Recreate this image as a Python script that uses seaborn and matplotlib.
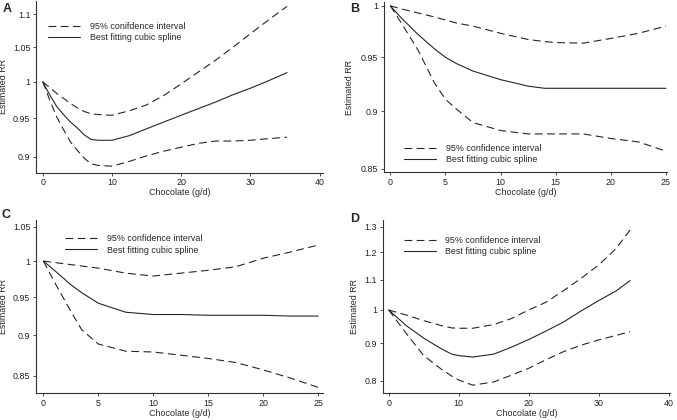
import numpy as np
import pandas as pd
import seaborn as sns
from matplotlib import pyplot as plt
from matplotlib.ticker import NullLocator

# panel A
a_x = [0, 1, 2, 3, 4, 5, 6, 7, 8, 10, 12.5, 15, 17.5, 20, 22.5, 25, 27.5, 30, 32.5, 35.3]
a_upper = [1.0, 0.992, 0.984, 0.977, 0.970, 0.964, 0.959, 0.956, 0.955, 0.954, 0.960, 0.968,
           0.981, 0.997, 1.014, 1.031, 1.050, 1.070, 1.090, 1.112]
a_mid = [1.0, 0.982, 0.966, 0.955, 0.945, 0.937, 0.928, 0.922, 0.921, 0.921, 0.927, 0.936,
         0.945, 0.954, 0.963, 0.972, 0.982, 0.991, 1.001, 1.013]
a_lower = [1.0, 0.975, 0.952, 0.935, 0.919, 0.908, 0.898, 0.891, 0.889, 0.888, 0.894, 0.901,
           0.907, 0.912, 0.917, 0.920, 0.920, 0.921, 0.923, 0.925]

# panel B
b_x = [0, 1, 2.5, 4, 5, 6, 7.5, 10, 12.5, 14, 15, 17.5, 20, 22.5, 25]
b_upper = [1.0, 0.997, 0.993, 0.989, 0.986, 0.983, 0.980, 0.973, 0.967, 0.965, 0.964, 0.9635,
           0.968, 0.973, 0.980]
b_mid = [1.0, 0.988, 0.972, 0.958, 0.950, 0.944, 0.937, 0.929, 0.923, 0.921, 0.921, 0.921,
         0.921, 0.921, 0.921]
b_lower = [1.0, 0.983, 0.957, 0.926, 0.911, 0.902, 0.890, 0.883, 0.880, 0.880, 0.880, 0.880,
           0.876, 0.873, 0.865]

# panel C
c_x = [0, 1, 2.5, 3.5, 5, 7.5, 10, 12.5, 15, 17.5, 20, 22.5, 25]
c_upper = [1.0, 0.998, 0.995, 0.993, 0.990, 0.983, 0.979, 0.983, 0.987, 0.992, 1.004, 1.013, 1.023]
c_mid = [1.0, 0.987, 0.967, 0.956, 0.942, 0.930, 0.927, 0.927, 0.926, 0.926, 0.926, 0.925, 0.925]
c_lower = [1.0, 0.971, 0.931, 0.907, 0.889, 0.880, 0.879, 0.875, 0.871, 0.866, 0.857, 0.847, 0.836]

# panel D
d_x = [0, 2.5, 5, 7.5, 9, 10, 12, 15, 17.5, 20, 22.5, 25, 27.5, 30, 32.5, 34.5]
d_upper = [1.0, 0.984, 0.967, 0.952, 0.945, 0.944, 0.944, 0.955, 0.973, 1.0, 1.025, 1.063,
           1.105, 1.152, 1.214, 1.287]
d_mid = [1.0, 0.952, 0.915, 0.885, 0.870, 0.866, 0.862, 0.870, 0.889, 0.911, 0.936, 0.963,
         0.997, 1.03, 1.062, 1.097]
d_lower = [1.0, 0.929, 0.866, 0.830, 0.812, 0.802, 0.789, 0.797, 0.814, 0.832, 0.855, 0.877,
           0.895, 0.910, 0.923, 0.934]

ci_labels = ['95% conifdence interval', '95% confidence interval',
             '95% confidence interval', '95% confidence interval']
spline_label = 'Best fitting cubic spline'

sns.set_style('ticks')
plt.rcParams['font.family'] = ['Liberation Sans', 'DejaVu Sans']
plt.rcParams['font.size'] = 6.4

panels = [
    dict(letter='A', x=a_x, up=a_upper, mid=a_mid, lo=a_lower,
         rect=[0.0532, 0.589, 0.424, 0.408], xlim=(-0.97, 40.5), ylim=(0.880, 1.12),
         xticks=[0, 10, 20, 30, 40], yticks=[0.9, 0.95, 1.0, 1.05, 1.1],
         ylabels=['0.9', '0.95', '1', '1.05', '1.1'], leg=(0.042, 0.82),
         ylab_x=-0.096, txt=(3, 9)),
    dict(letter='B', x=b_x, up=b_upper, mid=b_mid, lo=b_lower,
         rect=[0.5668, 0.590, 0.4185, 0.4055], xlim=(-0.6, 25.1), ylim=(0.847, 1.004),
         xticks=[0, 5, 10, 15, 20, 25], yticks=[0.85, 0.9, 0.95, 1.0],
         ylabels=['0.85', '0.9', '0.95', '1'], leg=(0.072, 0.107),
         ylab_x=-0.105, txt=(350, 8.5)),
    dict(letter='C', x=c_x, up=c_upper, mid=c_mid, lo=c_lower,
         rect=[0.0532, 0.0636, 0.424, 0.4126], xlim=(-0.67, 25.45), ylim=(0.829, 1.06),
         xticks=[0, 5, 10, 15, 20, 25], yticks=[0.85, 0.9, 0.95, 1.0, 1.05],
         ylabels=['0.85', '0.9', '0.95', '1', '1.05'], leg=(0.101, 0.859),
         ylab_x=-0.096, txt=(2, 215)),
    dict(letter='D', x=d_x, up=d_upper, mid=d_mid, lo=d_lower,
         rect=[0.5653, 0.0636, 0.4244, 0.4126], xlim=(-0.86, 40.2), ylim=(0.769, 1.328),
         xticks=[0, 10, 20, 30, 40], yticks=[0.8, 0.9, 1.0, 1.1, 1.2, 1.3],
         ylabels=['0.8', '0.9', '1', '1.1', '1.2', '1.3'], leg=(0.073, 0.849),
         ylab_x=-0.0835, txt=(350, 219.5)),
]

dash = (0, (7, 4))
line_col = '#262626'

fig = plt.figure(figsize=(6.77, 4.2), dpi=100)
for i, p in enumerate(panels):
    ax = fig.add_axes(p['rect'])
    sns.lineplot(x=p['x'], y=p['up'], ax=ax, color=line_col, lw=0.8, linestyle=dash)
    sns.lineplot(x=p['x'], y=p['mid'], ax=ax, color=line_col, lw=0.8)
    sns.lineplot(x=p['x'], y=p['lo'], ax=ax, color=line_col, lw=0.8, linestyle=dash)

    # RR axes are on a log scale
    ax.set_yscale('log')
    ax.set_xlim(*p['xlim'])
    ax.set_ylim(*p['ylim'])
    ax.set_xticks(p['xticks'])
    ax.set_xticklabels([str(t) for t in p['xticks']])
    ax.set_yticks(p['yticks'])
    ax.set_yticklabels(p['ylabels'])
    ax.yaxis.set_minor_locator(NullLocator())

    sns.despine(ax=ax)
    for s in ['left', 'bottom']:
        ax.spines[s].set_linewidth(0.8)
        ax.spines[s].set_color('#333333')
    ax.tick_params(length=2.5, width=0.6, pad=1.5, colors='#333333', labelcolor='#222222')

    ax.set_xlabel('Chocolate (g/d)')
    ax.set_ylabel('Estimated RR')
    ax.xaxis.set_label_coords(0.5, -0.092)
    ax.yaxis.set_label_coords(p['ylab_x'], 0.5)

    lines = ax.get_lines()
    ax.legend(handles=[lines[0], lines[1]], labels=[ci_labels[i], spline_label],
              loc='center left', bbox_to_anchor=p['leg'], frameon=False,
              handlelength=3.6, handletextpad=1.1, labelspacing=0.25,
              borderpad=0, borderaxespad=0)

    fig.text(p['txt'][0] / 677, 1 - p['txt'][1] / 420, p['letter'],
             fontsize=9, fontweight='bold', ha='left', va='center')

fig.savefig('out.png', dpi=100)
